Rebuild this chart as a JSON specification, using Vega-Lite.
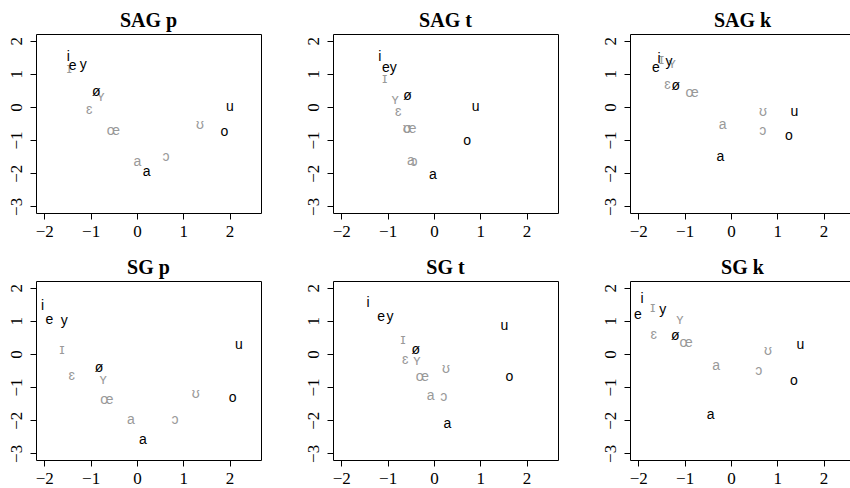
{
  "$schema": "https://vega.github.io/schema/vega-lite/v6.json",
  "padding": {"left": 5, "top": 10, "right": 0, "bottom": 0},
  "background": "white",
  "data": {"values": [
    {"panel": "SAG p", "v": "ɪ", "type": "lax", "x": -1.46, "y": 1.14},
    {"panel": "SAG p", "v": "ʏ", "type": "lax", "x": -0.78, "y": 0.29},
    {"panel": "SAG p", "v": "ɛ", "type": "lax", "x": -1.03, "y": -0.08},
    {"panel": "SAG p", "v": "œ", "type": "lax", "x": -0.51, "y": -0.74},
    {"panel": "SAG p", "v": "a", "type": "lax", "x": 0.01, "y": -1.66},
    {"panel": "SAG p", "v": "ɔ", "type": "lax", "x": 0.63, "y": -1.51},
    {"panel": "SAG p", "v": "ʊ", "type": "lax", "x": 1.36, "y": -0.55},
    {"panel": "SAG p", "v": "i", "type": "tense", "x": -1.48, "y": 1.5},
    {"panel": "SAG p", "v": "e", "type": "tense", "x": -1.39, "y": 1.22},
    {"panel": "SAG p", "v": "y", "type": "tense", "x": -1.16, "y": 1.25},
    {"panel": "SAG p", "v": "ø", "type": "tense", "x": -0.88, "y": 0.45},
    {"panel": "SAG p", "v": "a", "type": "tense", "x": 0.21, "y": -1.97},
    {"panel": "SAG p", "v": "u", "type": "tense", "x": 2.01, "y": 0.0},
    {"panel": "SAG p", "v": "o", "type": "tense", "x": 1.89, "y": -0.76},

    {"panel": "SAG t", "v": "ɪ", "type": "lax", "x": -1.06, "y": 0.85},
    {"panel": "SAG t", "v": "ʏ", "type": "lax", "x": -0.84, "y": 0.22},
    {"panel": "SAG t", "v": "ɛ", "type": "lax", "x": -0.77, "y": -0.15},
    {"panel": "SAG t", "v": "œ", "type": "lax", "x": -0.52, "y": -0.67},
    {"panel": "SAG t", "v": "ʊ", "type": "lax", "x": -0.59, "y": -0.67},
    {"panel": "SAG t", "v": "a", "type": "lax", "x": -0.5, "y": -1.64},
    {"panel": "SAG t", "v": "ɔ", "type": "lax", "x": -0.43, "y": -1.66},
    {"panel": "SAG t", "v": "i", "type": "tense", "x": -1.17, "y": 1.5},
    {"panel": "SAG t", "v": "e", "type": "tense", "x": -1.04, "y": 1.18},
    {"panel": "SAG t", "v": "y", "type": "tense", "x": -0.88, "y": 1.18},
    {"panel": "SAG t", "v": "ø", "type": "tense", "x": -0.57, "y": 0.32},
    {"panel": "SAG t", "v": "a", "type": "tense", "x": -0.02, "y": -2.06},
    {"panel": "SAG t", "v": "u", "type": "tense", "x": 0.9, "y": 0.0},
    {"panel": "SAG t", "v": "o", "type": "tense", "x": 0.72, "y": -1.02},

    {"panel": "SAG k", "v": "ɪ", "type": "lax", "x": -1.5, "y": 1.42},
    {"panel": "SAG k", "v": "ʏ", "type": "lax", "x": -1.27, "y": 1.28},
    {"panel": "SAG k", "v": "ɛ", "type": "lax", "x": -1.37, "y": 0.65},
    {"panel": "SAG k", "v": "œ", "type": "lax", "x": -0.84, "y": 0.42},
    {"panel": "SAG k", "v": "a", "type": "lax", "x": -0.18, "y": -0.54},
    {"panel": "SAG k", "v": "ʊ", "type": "lax", "x": 0.69, "y": -0.15},
    {"panel": "SAG k", "v": "ɔ", "type": "lax", "x": 0.69, "y": -0.72},
    {"panel": "SAG k", "v": "i", "type": "tense", "x": -1.55, "y": 1.45},
    {"panel": "SAG k", "v": "e", "type": "tense", "x": -1.62, "y": 1.18},
    {"panel": "SAG k", "v": "y", "type": "tense", "x": -1.34, "y": 1.35},
    {"panel": "SAG k", "v": "ø", "type": "tense", "x": -1.19, "y": 0.62},
    {"panel": "SAG k", "v": "a", "type": "tense", "x": -0.23, "y": -1.51},
    {"panel": "SAG k", "v": "u", "type": "tense", "x": 1.37, "y": -0.15},
    {"panel": "SAG k", "v": "o", "type": "tense", "x": 1.25, "y": -0.89},

    {"panel": "SG p", "v": "ɪ", "type": "lax", "x": -1.62, "y": 0.13},
    {"panel": "SG p", "v": "ʏ", "type": "lax", "x": -0.73, "y": -0.78},
    {"panel": "SG p", "v": "ɛ", "type": "lax", "x": -1.41, "y": -0.66},
    {"panel": "SG p", "v": "œ", "type": "lax", "x": -0.65, "y": -1.4},
    {"panel": "SG p", "v": "a", "type": "lax", "x": -0.13, "y": -2.0},
    {"panel": "SG p", "v": "ɔ", "type": "lax", "x": 0.82, "y": -1.98},
    {"panel": "SG p", "v": "ʊ", "type": "lax", "x": 1.27, "y": -1.2},
    {"panel": "SG p", "v": "i", "type": "tense", "x": -2.04, "y": 1.45},
    {"panel": "SG p", "v": "e", "type": "tense", "x": -1.89, "y": 1.01},
    {"panel": "SG p", "v": "y", "type": "tense", "x": -1.57, "y": 1.0},
    {"panel": "SG p", "v": "ø", "type": "tense", "x": -0.82, "y": -0.42},
    {"panel": "SG p", "v": "a", "type": "tense", "x": 0.13, "y": -2.61},
    {"panel": "SG p", "v": "u", "type": "tense", "x": 2.2, "y": 0.26},
    {"panel": "SG p", "v": "o", "type": "tense", "x": 2.07, "y": -1.33},

    {"panel": "SG t", "v": "ɪ", "type": "lax", "x": -0.67, "y": 0.42},
    {"panel": "SG t", "v": "ʏ", "type": "lax", "x": -0.37, "y": -0.21},
    {"panel": "SG t", "v": "ɛ", "type": "lax", "x": -0.62, "y": -0.18},
    {"panel": "SG t", "v": "œ", "type": "lax", "x": -0.25, "y": -0.7},
    {"panel": "SG t", "v": "a", "type": "lax", "x": -0.07, "y": -1.27},
    {"panel": "SG t", "v": "ɔ", "type": "lax", "x": 0.21, "y": -1.3},
    {"panel": "SG t", "v": "ʊ", "type": "lax", "x": 0.26, "y": -0.46},
    {"panel": "SG t", "v": "i", "type": "tense", "x": -1.42, "y": 1.53},
    {"panel": "SG t", "v": "e", "type": "tense", "x": -1.14, "y": 1.12},
    {"panel": "SG t", "v": "y", "type": "tense", "x": -0.95, "y": 1.12},
    {"panel": "SG t", "v": "ø", "type": "tense", "x": -0.39, "y": 0.12},
    {"panel": "SG t", "v": "a", "type": "tense", "x": 0.29, "y": -2.1},
    {"panel": "SG t", "v": "u", "type": "tense", "x": 1.52, "y": 0.84},
    {"panel": "SG t", "v": "o", "type": "tense", "x": 1.63, "y": -0.7},

    {"panel": "SG k", "v": "ɪ", "type": "lax", "x": -1.69, "y": 1.38},
    {"panel": "SG k", "v": "ʏ", "type": "lax", "x": -1.1, "y": 1.01},
    {"panel": "SG k", "v": "ɛ", "type": "lax", "x": -1.67, "y": 0.58},
    {"panel": "SG k", "v": "œ", "type": "lax", "x": -0.97, "y": 0.33},
    {"panel": "SG k", "v": "a", "type": "lax", "x": -0.32, "y": -0.35},
    {"panel": "SG k", "v": "ɔ", "type": "lax", "x": 0.6, "y": -0.5},
    {"panel": "SG k", "v": "ʊ", "type": "lax", "x": 0.8, "y": 0.08},
    {"panel": "SG k", "v": "i", "type": "tense", "x": -1.92, "y": 1.66},
    {"panel": "SG k", "v": "e", "type": "tense", "x": -2.01, "y": 1.18},
    {"panel": "SG k", "v": "y", "type": "tense", "x": -1.47, "y": 1.33},
    {"panel": "SG k", "v": "ø", "type": "tense", "x": -1.2, "y": 0.53},
    {"panel": "SG k", "v": "a", "type": "tense", "x": -0.44, "y": -1.85},
    {"panel": "SG k", "v": "u", "type": "tense", "x": 1.5, "y": 0.26},
    {"panel": "SG k", "v": "o", "type": "tense", "x": 1.36, "y": -0.81}
  ]},
  "facet": {
    "field": "panel",
    "type": "nominal",
    "sort": ["SAG p", "SAG t", "SAG k", "SG p", "SG t", "SG k"],
    "header": {
      "title": null,
      "labelFont": "Liberation Serif",
      "labelFontWeight": "bold",
      "labelFontSize": 20,
      "labelColor": "black",
      "labelPadding": 3
    }
  },
  "columns": 3,
  "spacing": {"column": 40, "row": 17},
  "resolve": {"axis": {"x": "independent", "y": "independent"}},
  "spec": {
    "width": 225,
    "height": 179,
    "mark": {"type": "text", "font": "Liberation Sans", "fontSize": 14, "baseline": "middle", "align": "center"},
    "encoding": {
      "x": {
        "field": "x", "type": "quantitative",
        "scale": {"domain": [-2.18, 2.68], "nice": false, "zero": false},
        "axis": {"title": null, "values": [-2, -1, 0, 1, 2], "grid": false, "domain": false,
                 "tickColor": "black", "tickSize": 6, "labelFont": "Liberation Serif", "labelFontSize": 17,
                 "labelColor": "black", "labelPadding": 4, "labelFlush": false, "labelOverlap": false}
      },
      "y": {
        "field": "y", "type": "quantitative",
        "scale": {"domain": [-3.2, 2.2], "nice": false, "zero": false},
        "axis": {"title": null, "values": [-3, -2, -1, 0, 1, 2], "grid": false, "domain": false,
                 "tickColor": "black", "tickSize": 6, "labelFont": "Liberation Serif", "labelFontSize": 17,
                 "labelColor": "black", "labelPadding": 5, "labelAngle": -90, "labelAlign": "center",
                 "labelBaseline": "bottom", "labelFlush": false, "labelOverlap": false,
                 "minExtent": 30, "maxExtent": 30}
      },
      "text": {"field": "v", "type": "nominal"},
      "color": {
        "field": "type", "type": "nominal",
        "scale": {"domain": ["tense", "lax"], "range": ["#000000", "#999999"]},
        "legend": null
      }
    }
  },
  "config": {
    "view": {"stroke": "#000000", "strokeWidth": 1}
  }
}
